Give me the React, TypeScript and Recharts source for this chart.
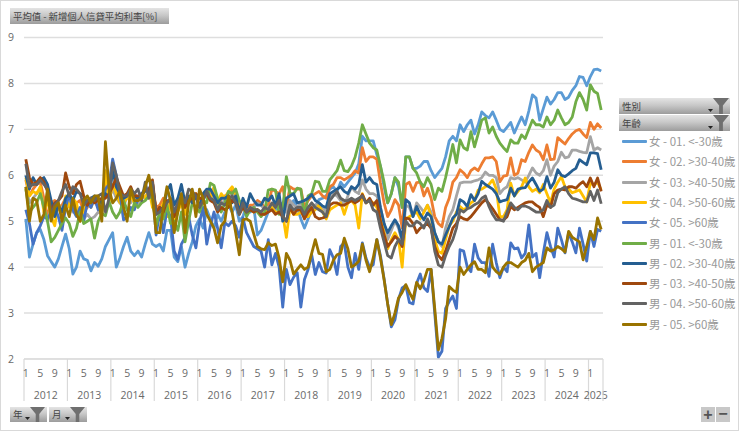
import React from "react";
import { LineChart, Line, XAxis, YAxis, CartesianGrid, Legend } from "recharts";

const years = [2012, 2013, 2014, 2015, 2016, 2017, 2018, 2019, 2020, 2021, 2022, 2023, 2024, 2025];
const yTicks = [2, 3, 4, 5, 6, 7, 8, 9];

const f1 = [
  5.05, 4.22, 4.5, 4.75, 4.82, 4.6, 4.25, 4.12, 4.0, 4.18, 4.45, 4.72,
  4.4, 3.85, 4.0, 4.35, 4.18, 4.15, 3.92, 4.1, 4.02, 4.18, 4.45, 4.6,
  4.75, 4.0, 4.2, 4.45, 4.65, 4.35, 4.25, 4.35, 4.22, 4.5, 4.75, 4.5,
  4.45, 4.5, 4.35, 4.8, 4.8, 4.22, 4.12, 4.45, 4.0, 4.3, 4.55, 4.9,
  5.05, 4.85, 5.25, 5.05, 4.85, 5.15, 5.0, 5.2, 5.35, 5.2, 5.35, 5.0,
  5.1, 5.35, 5.2, 5.3, 4.7, 4.8, 5.0, 5.2, 5.3, 5.25, 5.3, 5.35,
  5.2, 5.35, 5.45, 5.3, 5.05, 4.85, 5.05, 5.25, 5.3, 5.47, 5.5, 5.55,
  5.7, 5.75, 5.65, 5.85, 5.75, 5.85, 5.95, 6.05, 6.25, 6.85, 6.75, 6.75,
  6.75, 6.45, 6.2, 5.75, 5.4, 5.6, 5.95, 5.75, 5.3, 6.4, 6.4, 6.15,
  6.15, 6.2, 6.3, 6.3, 6.1, 5.95, 6.05, 6.15, 6.4, 6.75, 6.85, 6.75,
  7.1, 6.95, 7.1, 7.2, 6.9, 7.1, 7.38, 7.3, 7.25, 7.38, 7.2, 7.0,
  6.95, 7.05, 7.15, 6.92, 7.1, 7.27, 7.1, 7.4, 7.75, 7.68, 7.2, 7.45,
  7.7, 7.55, 7.65, 7.8, 7.8, 7.65, 7.7, 7.85, 7.95, 8.15, 8.13, 7.95,
  8.15, 8.3, 8.31, 8.27,
];
const f2 = [
  5.9, 5.55, 5.7, 5.8, 5.85, 5.5, 5.1, 5.4, 5.45, 5.3, 5.35, 5.5,
  5.55, 5.3, 5.4, 5.45, 5.2, 5.3, 5.5, 5.45, 5.3, 5.3, 5.9, 5.6,
  5.75, 5.7, 5.5, 5.5, 5.6, 5.55, 5.6, 5.5, 5.55, 5.7, 5.65, 5.7,
  5.3, 5.35, 5.5, 5.4, 5.5, 5.2, 5.3, 5.45, 5.35, 5.5, 5.55, 5.6,
  5.45, 5.55, 5.6, 5.6, 5.55, 5.3, 5.5, 5.55, 5.6, 5.7, 5.55, 5.35,
  5.4, 5.25, 5.35, 5.35, 5.45, 5.4, 5.3, 5.35, 5.7, 5.65, 5.6, 5.75,
  5.3, 5.75, 5.7, 5.7, 5.7, 5.3, 5.45, 5.55, 5.6, 5.65, 5.55, 5.5,
  5.75, 5.8, 5.95, 5.95, 5.9, 5.95, 6.0, 6.1, 6.05, 6.6, 6.3, 6.4,
  6.4, 6.35, 5.84, 5.4, 5.1, 5.25, 5.47, 5.35, 4.85, 5.8, 5.85, 5.65,
  5.84, 5.85, 5.55, 5.72, 5.5, 5.1, 4.95, 4.88, 5.3, 5.5, 5.85, 5.95,
  6.12, 6.05, 5.95, 6.1, 6.16, 6.1, 6.25, 6.38, 6.38, 6.4, 6.3, 5.86,
  5.98, 6.0, 6.38, 6.0, 6.05, 6.34, 6.3, 6.5, 6.66, 6.55, 6.5, 6.34,
  6.66, 6.34, 6.35, 6.82, 6.75, 6.68, 6.8, 6.9, 6.97, 7.0, 6.9, 6.82,
  7.15, 7.0, 7.12, 7.03,
];
const f3 = [
  5.75, 5.4, 5.5, 5.6, 5.7, 5.3, 5.0, 5.3, 5.4, 5.25, 5.3, 5.4,
  5.5, 5.2, 5.25, 5.1, 5.05, 5.15, 5.05, 5.1, 5.2, 5.15, 5.7, 5.5,
  5.7, 5.5, 5.4, 5.3, 5.55, 5.4, 5.55, 5.35, 5.5, 5.55, 5.5, 5.55,
  5.2, 5.25, 5.35, 5.3, 5.4, 5.15, 5.25, 5.4, 5.3, 5.4, 5.45, 5.5,
  5.4, 5.5, 5.55, 5.5, 5.5, 5.25, 5.4, 5.45, 5.5, 5.6, 5.45, 5.2,
  5.35, 5.15, 5.3, 5.3, 5.4, 5.35, 5.25, 5.3, 5.35, 5.3, 5.35, 5.4,
  5.2, 5.45, 5.35, 5.3, 5.4, 5.15, 5.25, 5.35, 5.35, 5.4, 5.3, 5.2,
  5.5, 5.6, 5.55, 5.45, 5.35, 5.55, 5.75, 5.65, 5.6, 5.9, 5.7, 5.6,
  5.6, 5.55, 5.3, 4.95, 4.6, 4.8, 5.0, 4.85, 4.55, 5.35, 5.3, 5.1,
  5.4, 5.3, 5.2, 5.35, 5.2, 4.75, 4.55, 4.45, 4.85, 5.1, 5.25, 5.55,
  5.83, 5.85, 5.85, 5.85, 5.88, 5.9, 5.95, 6.07, 6.0, 6.0, 5.95, 5.6,
  5.7, 5.75, 5.95, 5.92, 5.95, 5.9, 5.85, 6.0, 6.16, 6.05, 6.0, 6.1,
  6.34, 6.0, 6.2, 6.3, 6.5, 6.38, 6.4, 6.55, 6.55, 6.52, 6.5, 6.49,
  6.84, 6.55, 6.6, 6.55,
];
const f4 = [
  5.95, 5.55, 5.65, 5.6, 5.75, 5.2, 5.45, 5.1, 4.9, 5.4, 5.1, 5.55,
  5.3, 5.5, 5.4, 5.0, 5.25, 5.4, 5.3, 5.5, 5.5, 5.3, 6.1, 5.4,
  5.8, 5.6, 5.4, 5.4, 5.5, 5.55, 5.4, 5.45, 5.6, 5.5, 5.7, 5.3,
  5.2, 5.2, 5.4, 5.1, 5.45, 4.95, 5.2, 5.4, 5.15, 5.5, 5.55, 5.6,
  5.3, 5.55, 5.6, 5.5, 5.75, 5.4, 5.6, 5.5, 5.65, 5.75, 5.6, 5.25,
  5.45, 5.2, 5.3, 5.2, 5.25, 5.2, 5.15, 5.25, 5.3, 5.2, 5.2, 5.15,
  4.65, 5.3, 5.15, 5.15, 5.2, 5.1, 5.1, 5.2, 5.25, 5.35, 5.2, 5.05,
  5.25, 5.3, 5.35, 5.4, 5.15, 5.4, 5.45, 5.35, 4.85, 5.6, 5.4, 5.45,
  5.4, 5.3, 5.05, 4.75, 4.4, 4.6, 4.75, 4.6, 4.0, 5.05, 5.1, 5.15,
  5.2, 5.05, 5.2, 5.35, 5.1, 4.6, 4.35, 4.3, 4.6, 4.9, 5.0, 5.2,
  5.32, 5.25, 5.3, 5.4, 5.45, 5.68, 5.7, 5.75, 5.8, 5.9, 5.7, 5.1,
  5.1, 5.25, 5.83, 5.55, 5.65, 5.75, 5.94, 5.75, 5.65, 5.7, 5.62, 5.8,
  5.6, 5.4, 5.7, 5.85, 5.97, 5.75, 5.7, 5.62, 5.65, 5.68, 5.55, 5.42,
  5.83, 5.8, 5.85, 5.68,
];
const f5 = [
  5.25, 4.95, 4.5, 4.75, 4.9, 5.1, 5.05, 5.2, 5.3, 5.1, 4.8, 5.3,
  5.6, 5.25, 5.1, 5.3, 5.0, 5.4, 5.3, 5.5, 5.25, 5.4, 5.7, 5.8,
  6.35, 6.0, 5.6, 5.03, 5.1, 5.3, 5.25, 5.5, 5.6, 5.7, 5.65, 5.75,
  4.7, 5.2, 4.75, 5.25, 5.1, 4.35, 4.17, 4.5, 4.65, 5.1, 4.7, 4.42,
  4.97, 5.3, 4.5, 4.9, 5.2, 4.85, 4.42, 4.97, 4.9, 5.0, 4.9, 4.65,
  5.07, 4.75, 4.6, 4.45, 4.4, 4.35, 4.0, 4.6, 4.05, 4.3, 4.0, 3.13,
  3.95, 3.62, 3.78, 3.88, 3.13, 3.73, 3.95, 4.27, 3.84, 4.1, 3.9, 3.87,
  4.38, 4.2, 3.84, 4.45, 4.53, 4.0, 3.77, 4.3, 3.95, 4.53, 4.2, 4.0,
  4.05, 4.6, 4.25, 3.75, 3.2, 2.7, 2.85, 3.3, 3.55, 3.6, 3.23, 3.2,
  3.65, 3.85, 3.55, 3.47, 3.95, 3.0, 2.04, 2.17, 3.1, 3.25, 3.37, 3.1,
  4.38, 4.35, 4.0, 3.9, 4.5, 4.2, 4.1, 4.1, 3.8, 4.5, 4.1, 3.77,
  4.0, 3.9, 4.53, 4.4, 4.42, 4.2, 4.3, 4.92, 4.22, 4.3, 3.77, 4.3,
  4.75, 4.45, 4.22, 4.85, 4.6, 4.31, 4.75, 4.55, 4.31, 4.85, 4.5, 4.13,
  4.78, 4.45, 4.82, 4.78,
];
const m1 = [
  5.7, 5.2, 5.3, 5.4, 5.6, 5.3, 5.0, 4.55, 4.65, 4.8, 4.95, 5.07,
  4.95, 4.67, 4.85, 5.2, 4.95, 5.0, 5.05, 4.63, 5.0, 5.17, 5.12, 5.43,
  5.2, 5.07, 5.2, 5.45, 5.25, 5.1, 5.4, 5.3, 5.4, 5.45, 5.55, 5.5,
  4.9, 5.2, 5.05, 5.35, 4.95, 5.0, 4.8, 5.2, 4.55, 5.0, 5.4, 5.3,
  5.2, 5.45, 5.4, 5.83, 5.78, 5.5, 5.2, 5.4, 5.65, 5.6, 5.7, 5.45,
  5.35, 5.1, 5.25, 5.3, 5.2, 5.1, 5.2, 5.68, 5.7, 5.68, 5.15, 5.3,
  5.97, 5.6, 5.6, 5.72, 5.7, 5.1, 5.55, 5.6, 5.87, 5.85, 5.65, 5.65,
  5.9, 6.0, 6.1, 6.33, 6.1, 6.08, 6.2, 6.4, 6.7, 7.1, 6.9, 6.7,
  6.6, 6.55, 6.2, 5.85, 5.4, 5.6, 5.95, 5.85, 5.3, 6.4, 6.4, 6.15,
  6.05, 5.85, 5.75, 5.95, 5.8, 5.47, 5.72, 5.65, 5.95, 6.3, 6.67, 6.27,
  6.77, 6.6, 6.55, 6.95, 6.62, 6.9, 7.2, 7.25, 6.92, 7.05, 6.85, 6.7,
  6.6, 6.52, 6.77, 6.7, 6.7, 6.88, 6.8, 7.0, 7.2, 7.1, 7.1, 7.05,
  7.27, 7.1, 7.2, 7.42, 7.25, 7.1, 7.15, 7.27, 7.6, 7.8, 7.65, 7.42,
  7.97, 7.83, 7.78, 7.42,
];
const m2 = [
  6.0, 5.7, 5.95, 5.8, 5.9, 5.95, 5.8, 5.45, 5.1, 5.35, 5.2, 5.5,
  5.6, 5.45, 5.65, 5.6, 5.55, 5.35, 5.5, 5.55, 5.45, 5.4, 5.6, 5.5,
  6.1, 5.75, 5.6, 5.5, 5.55, 5.65, 5.55, 5.5, 5.6, 5.65, 5.7, 5.85,
  5.15, 5.3, 5.25, 5.65, 5.8, 5.35, 5.5, 5.8, 5.4, 5.55, 5.4, 5.55,
  5.3, 5.6, 5.7, 5.7, 5.55, 5.4, 5.5, 5.5, 5.55, 5.4, 5.55, 5.2,
  5.5, 5.3, 5.6, 5.45, 5.35, 5.35, 5.5, 5.45, 5.55, 5.35, 5.6, 5.0,
  5.5, 5.55, 5.6, 5.4, 5.42, 5.45, 5.5, 5.58, 5.45, 5.4, 5.33, 5.3,
  5.6, 5.65, 5.7, 5.75, 5.65, 5.6, 5.75, 5.7, 5.8, 6.23, 5.85, 5.95,
  5.84, 5.8, 5.3, 4.95, 4.75, 4.9, 5.03, 4.9, 4.6, 5.47, 5.4, 5.1,
  5.32, 5.15, 5.03, 5.18, 5.1, 4.75, 4.55, 4.5, 4.7, 4.88, 5.07, 5.15,
  5.47, 5.42, 5.32, 5.58, 5.45, 5.6, 5.87, 5.8, 5.75, 5.7, 5.6, 5.42,
  5.45, 5.47, 5.72, 5.55, 5.7, 5.72, 5.73, 5.85, 5.94, 5.8, 5.65, 5.7,
  5.97, 5.72, 5.85, 6.12, 6.0, 5.97, 6.03, 6.1, 6.15, 6.34, 6.28, 6.23,
  6.49, 6.49, 6.47, 6.12,
];
const m3 = [
  6.35, 5.95, 5.8, 5.85, 5.95, 5.85, 5.65, 5.2, 5.4, 5.45, 5.55, 6.05,
  5.75, 5.6, 5.8, 5.87, 5.55, 5.35, 5.5, 5.4, 5.45, 5.5, 5.5, 5.6,
  5.75, 5.95, 5.75, 5.55, 5.6, 5.75, 5.55, 5.55, 5.55, 5.7, 5.65, 5.9,
  5.2, 5.3, 5.2, 5.45, 5.45, 5.1, 5.3, 5.5, 5.3, 5.45, 5.5, 5.6,
  5.5, 5.5, 5.6, 5.45, 5.4, 5.2, 5.3, 5.25, 5.3, 5.45, 5.4, 5.15,
  5.3, 5.2, 5.25, 5.2, 5.25, 5.15, 5.15, 5.2, 5.25, 5.15, 5.2, 5.1,
  5.0, 5.3, 5.15, 5.25, 5.25, 5.05, 5.2, 5.3, 5.1, 5.05, 5.07, 5.1,
  5.35, 5.4, 5.4, 5.35, 5.35, 5.4, 5.45, 5.4, 5.45, 5.58, 5.4, 5.5,
  5.35, 5.45, 5.0, 4.7, 4.45, 4.55, 4.67, 4.6, 4.45, 5.07, 5.05, 4.95,
  4.75, 4.85, 4.9, 4.95, 4.85, 4.45, 4.25, 4.16, 4.35, 4.6, 4.85, 4.95,
  5.1, 5.05, 5.03, 5.1, 5.2, 5.3, 5.4, 5.47, 5.38, 5.27, 5.15, 5.03,
  5.03, 5.1, 5.32, 5.25, 5.3, 5.35, 5.4, 5.42, 5.42, 5.35, 5.3, 5.1,
  5.35, 5.3, 5.6, 5.68, 5.7, 5.68, 5.75, 5.75, 5.72, 5.8, 5.86, 5.75,
  5.94, 5.75, 5.94, 5.65,
];
const m4 = [
  6.25, 5.75, 5.8, 5.8, 5.9, 5.8, 5.7, 5.15, 5.35, 5.45, 5.65, 5.8,
  5.55, 5.75, 5.7, 5.6, 5.35, 5.45, 5.5, 5.45, 5.55, 5.6, 5.2, 5.5,
  6.27, 6.0, 5.6, 5.55, 5.55, 5.7, 5.6, 5.7, 5.45, 5.85, 5.5, 5.85,
  5.15, 5.2, 5.3, 5.4, 5.5, 5.2, 5.4, 5.55, 5.4, 5.7, 5.65, 5.55,
  5.3, 5.45, 5.65, 5.5, 5.45, 5.25, 5.4, 5.35, 5.45, 5.55, 5.4, 5.15,
  5.4, 5.2, 5.3, 5.25, 5.25, 5.2, 5.3, 5.25, 5.4, 5.3, 5.45, 5.1,
  5.0, 5.35, 5.25, 5.3, 5.3, 5.15, 5.3, 5.4, 5.3, 5.25, 5.2, 5.1,
  5.45, 5.55, 5.65, 5.5, 5.45, 5.45, 5.5, 5.45, 5.5, 5.55, 5.4, 5.45,
  5.25, 5.2, 4.85, 4.55, 4.25, 4.2, 4.45, 4.6, 4.5, 5.0, 4.9, 4.9,
  5.0, 4.95, 4.85, 5.05, 4.85, 4.35, 4.05, 4.0, 4.25, 4.45, 4.6, 4.85,
  5.25, 5.2, 5.27, 5.3, 5.36, 5.4, 5.5, 5.55, 5.32, 5.15, 5.03, 5.03,
  5.0, 5.2, 5.4, 5.3, 5.25, 5.33, 5.33, 5.3, 5.25, 5.2, 5.2, 5.25,
  5.45, 5.3, 5.35, 5.62, 5.7, 5.75, 5.6, 5.5, 5.48, 5.45, 5.42, 5.42,
  5.65, 5.45, 5.68, 5.38,
];
const m5 = [
  5.75, 5.0, 5.5, 5.45, 5.0, 5.15, 5.7, 5.0, 5.3, 5.4, 5.0, 5.35,
  5.1, 5.5, 5.15, 5.0, 5.45, 5.55, 5.4, 5.55, 5.55, 5.0, 6.73, 5.7,
  5.4, 5.5, 5.65, 5.3, 5.0, 5.7, 5.45, 5.45, 5.5, 5.75, 6.0, 5.55,
  4.75, 4.75, 5.3, 5.75, 5.45, 4.75, 5.2, 5.6, 4.75, 5.4, 5.7, 5.1,
  5.7, 5.5, 5.15, 5.0, 4.85, 4.53, 4.9, 5.0, 5.55, 5.2, 4.75, 4.27,
  5.03, 5.05, 5.0, 4.72, 4.45, 4.4, 4.38, 4.53, 4.47, 4.5, 4.2, 3.68,
  4.3, 4.15, 3.85, 3.95, 4.05, 3.95, 4.0, 4.3, 4.6, 4.3, 4.28, 3.9,
  3.95, 4.15, 4.27, 4.3, 4.63, 4.4, 4.0, 4.05, 4.13, 4.5, 4.15, 3.9,
  4.2, 4.6, 4.2, 3.73, 3.2, 2.75, 3.0, 3.33, 3.45, 3.62, 3.45, 3.3,
  3.67, 3.53, 3.7, 3.95, 3.95, 3.1, 2.2, 2.45, 2.87, 3.58, 3.5, 3.45,
  4.0, 3.84, 3.95, 4.05, 4.12, 3.95, 3.95, 3.88, 4.42, 4.0, 3.9, 3.84,
  4.0, 4.1, 4.1, 4.05, 4.0, 4.1, 4.15, 4.3, 3.9, 4.0, 4.05, 4.1,
  4.42, 4.35, 4.38, 4.45, 4.4, 4.33, 4.78, 4.65, 4.6, 4.55, 4.16, 4.45,
  4.78, 4.6, 5.07, 4.82,
];

const seriesNames = [
  "女 - 01. <-30歲", "女 - 02. >30-40歲", "女 - 03. >40-50歲", "女 - 04. >50-60歲", "女 - 05. >60歲",
  "男 - 01. <-30歲", "男 - 02. >30-40歲", "男 - 03. >40-50歲", "男 - 04. >50-60歲", "男 - 05. >60歲",
];
const seriesValues = [f1, f2, f3, f4, f5, m1, m2, m3, m4, m5];
const seriesColors = [
  "#5B9BD5", "#ED7D31", "#A5A5A5", "#FFC000", "#4472C4",
  "#70AD47", "#255E91", "#9E480E", "#636363", "#997300",
];

const data = f1.map((_, i) => {
  const row: Record<string, any> = {
    key: `${years[Math.floor(i / 12)]}-${(i % 12) + 1}`,
  };
  seriesNames.forEach((name, s) => {
    row[name] = seriesValues[s][i];
  });
  return row;
});

const BTN = "linear-gradient(#e4e4e4, #c8c8c8 45%, #9c9c9c)";
const CJK = "'Noto Sans CJK TC', 'Noto Sans', sans-serif";

const Funnel = ({ x, y, size = 17 }: { x: number; y: number; size?: number }) => (
  <svg style={{ position: "absolute", left: x, top: y }} width={size} height={size} viewBox="0 0 17 17">
    <polygon points="0,0 17,0 10.5,8 10.5,17 6.5,17 6.5,8" fill="#6f6f6f" />
  </svg>
);

const Caret = ({ x, y }: { x: number; y: number }) => (
  <svg style={{ position: "absolute", left: x, top: y }} width={5} height={3}>
    <polygon points="0,0 5,0 2.5,3" fill="#222" />
  </svg>
);

const FieldButton = ({ label, x, y, w, h }: { label: string; x: number; y: number; w: number; h: number }) => (
  <div style={{ position: "absolute", left: x, top: y, width: w, height: h, background: BTN }}>
    <span style={{ position: "absolute", left: 3, top: 0, fontSize: 9.5, lineHeight: `${h}px`, color: "#444", fontFamily: CJK }}>
      {label}
    </span>
    <Caret x={w - 22} y={h - 5} />
    <Funnel x={w - 17} y={0} size={h} />
  </div>
);

// month labels and year bands are both drawn from the one category axis
const MonthTick = (props: any) => {
  const { x, y, payload, index } = props;
  const [yr, mo] = String(payload.value).split("-").map(Number);
  const top = y - 8;
  const monthsInYear = yr === 2025 ? 4 : 12;
  const step = 3.62;
  return (
    <g>
      {mo === 1 && <line x1={x - step / 2} x2={x - step / 2} y1={top} y2={top + 42} stroke="#d9d9d9" strokeWidth={1.2} />}
      {index === data.length - 1 && (
        <line x1={x + step / 2} x2={x + step / 2} y1={top} y2={top + 42} stroke="#d9d9d9" strokeWidth={1.2} />
      )}
      {(mo === 1 || mo === 5 || mo === 9) && (
        <text x={x} y={top + 18} textAnchor="middle" fontSize={10.5} fill="#6a6a6a" fontFamily="'Open Sans', sans-serif">
          {mo}
        </text>
      )}
      {mo === 1 && (
        <text
          x={x + (step * (monthsInYear - 1)) / 2}
          y={top + 40}
          textAnchor="middle"
          fontSize={10.5}
          fill="#6a6a6a"
          fontFamily="'Open Sans', sans-serif"
        >
          {yr}
        </text>
      )}
    </g>
  );
};

const LegendList = () => (
  <div style={{ position: "absolute", left: -1, top: 0 }}>
    {seriesNames.map((name, i) => (
      <div key={name} style={{ position: "absolute", left: 0, top: i * 20.3, width: 120, height: 20, whiteSpace: "nowrap" }}>
        <div style={{ position: "absolute", left: 0, top: 9, width: 25, height: 3, background: seriesColors[i], borderRadius: 1 }} />
        <span style={{ position: "absolute", left: 27, top: 0, fontSize: 11.5, lineHeight: "20px", color: "#999", fontFamily: CJK }}>
          {name}
        </span>
      </div>
    ))}
  </div>
);

export default function App() {
  return (
    <div style={{ position: "fixed", left: 0, top: 0, width: 740, height: 432, background: "#fff", overflow: "hidden" }}>
      <LineChart
        width={740}
        height={432}
        data={data}
        margin={{ top: 37.5, right: 137, bottom: 17, left: 0 }}
      >
        <CartesianGrid vertical={false} stroke="#dedede" strokeWidth={1.4} />
        <XAxis
          dataKey="key"
          scale="band"
          interval={0}
          height={56}
          stroke="#d9d9d9"
          tickLine={false}
          tick={<MonthTick />}
        />
        <YAxis
          domain={[2, 9]}
          ticks={yTicks}
          width={24}
          axisLine={false}
          tickLine={false}
          tickMargin={4}
          tick={{ fontSize: 10.5, fill: "#6a6a6a", fontFamily: "'Open Sans', sans-serif" }}
        />
        <Legend content={() => null} />
        {seriesNames.map((name, i) => (
          <Line
            key={name}
            dataKey={name}
            stroke={seriesColors[i]}
            strokeWidth={2.8}
            strokeLinejoin="round"
            dot={false}
            isAnimationActive={false}
          />
        ))}
      </LineChart>

      <div style={{ position: "absolute", left: 0, top: 0, width: 737, height: 429, border: "solid #d9d9d9", borderWidth: "1.5px", pointerEvents: "none" }} />

      <div style={{ position: "absolute", left: 10, top: 8, width: 159, height: 16, background: BTN }}>
        <span style={{ position: "absolute", left: 3, top: 0, fontSize: 9.4, lineHeight: "16px", color: "#444", fontFamily: CJK, whiteSpace: "nowrap" }}>
          平均值 - 新增個人信貸平均利率[%]
        </span>
      </div>

      <FieldButton label="性別" x={619} y={98} w={111} h={16} />
      <FieldButton label="年齡" x={619} y={115} w={111} h={16} />
      <div style={{ position: "absolute", left: 623, top: 131 }}>
        <LegendList />
      </div>

      <FieldButton label="年" x={10} y={407} w={37} h={15} />
      <FieldButton label="月" x={49} y={407} w={38} h={15} />

      <div style={{ position: "absolute", left: 701, top: 407, width: 14, height: 15, background: "#c8c8c8", color: "#555", fontSize: 16, fontWeight: 700, lineHeight: "15px", textAlign: "center", fontFamily: "'Liberation Sans', sans-serif" }}>
        +
      </div>
      <div style={{ position: "absolute", left: 716, top: 407, width: 14, height: 15, background: "#c8c8c8", color: "#555", fontSize: 16, fontWeight: 700, lineHeight: "14px", textAlign: "center", fontFamily: "'Liberation Sans', sans-serif" }}>
        −
      </div>
    </div>
  );
}
